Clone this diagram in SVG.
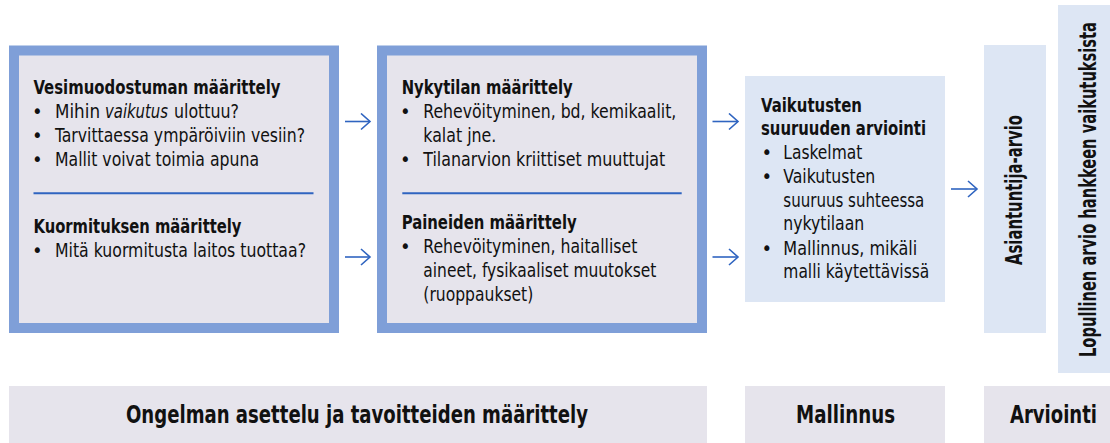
<svg xmlns="http://www.w3.org/2000/svg" width="1110" height="443" viewBox="0 0 1110 443">
<defs>
<style>
text{font-family:"Liberation Sans Narrow","DejaVu Sans Condensed","Liberation Sans",sans-serif;fill:#111;font-size:20px}
.b{font-weight:bold}
.i{font-style:italic}
.big{font-size:25px;font-weight:bold}
.rot{font-size:23px;font-weight:bold}
.frame{fill:#e6e4ec;stroke:#7f9fd8;stroke-width:10}
.pale{fill:#dde6f4}
.bar{fill:#e6e4ec}
.sep{stroke:#2f64c0;stroke-width:2}
.conn{stroke:#2f64c0;stroke-width:1.6;fill:none}
</style>
<marker id="ah" markerUnits="userSpaceOnUse" markerWidth="12" markerHeight="20" refX="10" refY="9" orient="auto">
<path d="M1,1 L10,9 L1,17" fill="none" stroke="#2f64c0" stroke-width="1.6"/>
</marker>
</defs>
<rect width="1110" height="443" fill="#fff"/>

<g id="box-problem1">
<rect class="frame" x="14" y="50.5" width="320" height="277.5"/>
<text class="b" x="33.5" y="94" textLength="247" lengthAdjust="spacingAndGlyphs">Vesimuodostuman määrittely</text>
<text x="32" y="118">•</text>
<text x="55" y="118" textLength="45" lengthAdjust="spacingAndGlyphs">Mihin</text>
<text class="i" x="105" y="118" textLength="63" lengthAdjust="spacingAndGlyphs">vaikutus</text>
<text x="174" y="118" textLength="65" lengthAdjust="spacingAndGlyphs">ulottuu?</text>
<text x="32" y="142">•</text><text x="55" y="142" textLength="250" lengthAdjust="spacingAndGlyphs">Tarvittaessa ympäröiviin vesiin?</text>
<text x="32" y="166">•</text><text x="55" y="166" textLength="204" lengthAdjust="spacingAndGlyphs">Mallit voivat toimia apuna</text>
<line class="sep" x1="33.5" y1="193.3" x2="313.5" y2="193.3"/>
<text class="b" x="33.5" y="233" textLength="208" lengthAdjust="spacingAndGlyphs">Kuormituksen määrittely</text>
<text x="32" y="257">•</text><text x="55" y="257" textLength="251" lengthAdjust="spacingAndGlyphs">Mitä kuormitusta laitos tuottaa?</text>
</g>

<g id="box-problem2">
<rect class="frame" x="382" y="50.5" width="320" height="277.5"/>
<text class="b" x="401.7" y="93.5" textLength="171" lengthAdjust="spacingAndGlyphs">Nykytilan määrittely</text>
<text x="400" y="117.5">•</text><text x="423.3" y="117.5" textLength="253" lengthAdjust="spacingAndGlyphs">Rehevöityminen, bd, kemikaalit,</text>
<text x="423.3" y="141.5" textLength="73" lengthAdjust="spacingAndGlyphs">kalat jne.</text>
<text x="400" y="165.5">•</text><text x="423.3" y="165.5" textLength="242" lengthAdjust="spacingAndGlyphs">Tilanarvion kriittiset muuttujat</text>
<line class="sep" x1="402.3" y1="193.3" x2="681.7" y2="193.3"/>
<text class="b" x="401.7" y="228.5" textLength="175" lengthAdjust="spacingAndGlyphs">Paineiden määrittely</text>
<text x="400" y="252.5">•</text><text x="423.3" y="252.5" textLength="214" lengthAdjust="spacingAndGlyphs">Rehevöityminen, haitalliset</text>
<text x="423.3" y="276.5" textLength="233" lengthAdjust="spacingAndGlyphs">aineet, fysikaaliset muutokset</text>
<text x="423.3" y="300.5" textLength="110" lengthAdjust="spacingAndGlyphs">(ruoppaukset)</text>
</g>

<g id="box-modelling">
<rect class="pale" x="745" y="76" width="200" height="226"/>
<text class="b" x="761" y="111.7" textLength="101" lengthAdjust="spacingAndGlyphs">Vaikutusten</text>
<text class="b" x="761" y="135" textLength="165" lengthAdjust="spacingAndGlyphs">suuruuden arviointi</text>
<text x="761.5" y="159.3">•</text><text x="783.3" y="159.3" textLength="79" lengthAdjust="spacingAndGlyphs">Laskelmat</text>
<text x="761.5" y="182.7">•</text><text x="783.3" y="182.7" textLength="92" lengthAdjust="spacingAndGlyphs">Vaikutusten</text>
<text x="783.3" y="206.7" textLength="141" lengthAdjust="spacingAndGlyphs">suuruus suhteessa</text>
<text x="783.3" y="230" textLength="81" lengthAdjust="spacingAndGlyphs">nykytilaan</text>
<text x="761.5" y="255">•</text><text x="783.3" y="255" textLength="134" lengthAdjust="spacingAndGlyphs">Mallinnus, mikäli</text>
<text x="783.3" y="278.3" textLength="146" lengthAdjust="spacingAndGlyphs">malli käytettävissä</text>
</g>

<g id="box-expert">
<rect class="pale" x="984" y="45" width="62" height="288"/>
<text class="rot" transform="translate(1022,265) rotate(-90)" textLength="150" lengthAdjust="spacingAndGlyphs">Asiantuntija-arvio</text>
</g>

<g id="box-final">
<rect class="pale" x="1058" y="5" width="52" height="368"/>
<text class="rot" transform="translate(1096,357) rotate(-90)" textLength="335" lengthAdjust="spacingAndGlyphs">Lopullinen arvio hankkeen vaikutuksista</text>
</g>

<g id="bar-problem">
<rect class="bar" x="9" y="386" width="698" height="57"/>
<text class="big" x="126" y="423" textLength="462" lengthAdjust="spacingAndGlyphs">Ongelman asettelu ja tavoitteiden määrittely</text>
</g>
<g id="bar-modelling">
<rect class="bar" x="745" y="386" width="200" height="57"/>
<text class="big" x="796" y="423" textLength="99" lengthAdjust="spacingAndGlyphs">Mallinnus</text>
</g>
<g id="bar-evaluation">
<rect class="bar" x="984" y="386" width="126" height="57"/>
<text class="big" x="1010" y="423" textLength="87" lengthAdjust="spacingAndGlyphs">Arviointi</text>
</g>

<g id="connectors">
<path class="conn" d="M345,121.5 H370" marker-end="url(#ah)"/>
<path class="conn" d="M345,257 H370" marker-end="url(#ah)"/>
<path class="conn" d="M712.5,121.5 H738" marker-end="url(#ah)"/>
<path class="conn" d="M712.5,257 H738" marker-end="url(#ah)"/>
<path class="conn" d="M951,189 H977" marker-end="url(#ah)"/>
</g>
</svg>
